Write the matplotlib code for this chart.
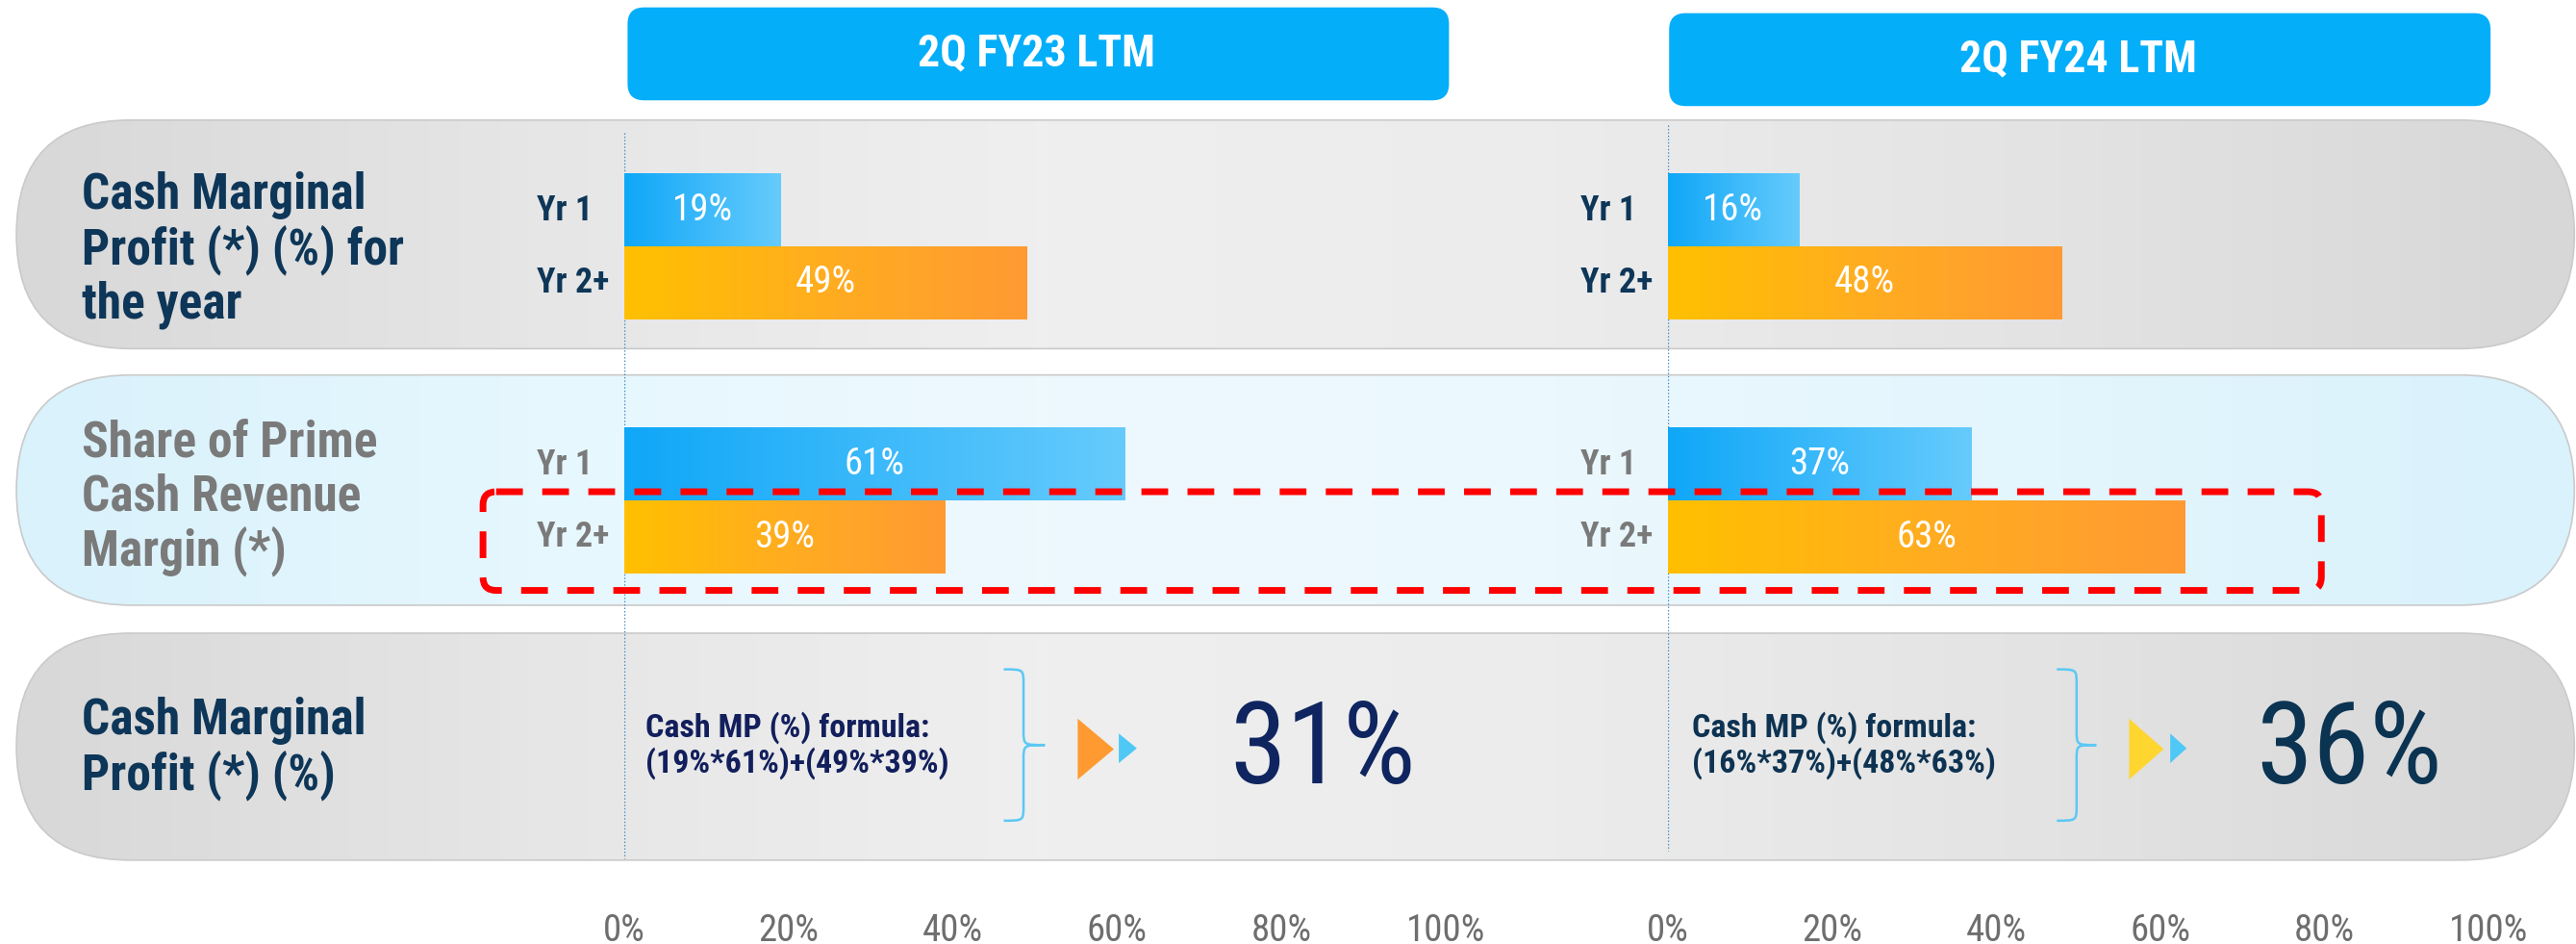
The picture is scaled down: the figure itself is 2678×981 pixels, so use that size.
import numpy as np
import matplotlib
matplotlib.use('Agg')
import matplotlib.pyplot as plt
from matplotlib.patches import FancyBboxPatch, Polygon, PathPatch
from matplotlib.path import Path
from matplotlib.colors import LinearSegmentedColormap

plt.rcParams['font.family'] = ['Roboto Condensed', 'Liberation Sans Narrow', 'Roboto', 'DejaVu Sans']

# data
periods = ['2Q FY23 LTM', '2Q FY24 LTM']
years = ['Yr 1', 'Yr 2+']
mp_year_fy23 = [19, 49]      # cash marginal profit for the year
mp_year_fy24 = [16, 48]
share_fy23 = [61, 39]        # share of prime cash revenue margin
share_fy24 = [37, 63]
cash_mp = [31, 36]
xticks = [0, 20, 40, 60, 80, 100]
row_titles = ['Cash Marginal\nProfit (*) (%) for\nthe year',
              'Share of Prime\nCash Revenue\nMargin (*)',
              'Cash Marginal\nProfit (*) (%)']

# layout, in units of the reference picture (1568 x 574)
W, H = 1568, 574
AX_BOTTOM = 548
panel_x0 = [380, 1015]
panel_w = 500
bands = [(73, 212), (228, 368), (385, 523)]
bar_rows = [(128, 172), (282.5, 326.5)]
NAVY = '#0D3658'
GREY_TXT = '#7A7A7A'


def hgrad(ax, colors, extent, z, clip=None):
    cmap = LinearSegmentedColormap.from_list('g', colors)
    im = ax.imshow(np.linspace(0, 1, 256)[None, :], cmap=cmap, extent=extent,
                   aspect='auto', zorder=z, interpolation='bilinear')
    if clip is not None:
        im.set_clip_path(clip)
    return im


def brace(xs, xb, xt, yt, yb):
    ym = (yt + yb) / 2
    h = 9
    verts = [(xs, yt), (xb, yt), (xb, yt), (xb, yt + h),
             (xb, ym - h),
             (xb, ym), (xb, ym), (xt, ym),
             (xb, ym), (xb, ym), (xb, ym + h),
             (xb, yb - h),
             (xb, yb), (xb, yb), (xs, yb)]
    codes = [Path.MOVETO] + [Path.CURVE4] * 3 + [Path.LINETO] + [Path.CURVE4] * 6 + \
            [Path.LINETO] + [Path.CURVE4] * 3
    return PathPatch(Path(verts, codes), fc='none', ec='#5BC8F5', lw=1.8, zorder=4)


fig = plt.figure(figsize=(26.78, 9.81), dpi=100)
bg = fig.add_axes([0, 0, 1, 1])
bg.axis('off')

gray_stops = ['#D8D8D8', '#E6E6E6', '#EFEFEF', '#ECECEC', '#E3E3E3', '#D7D7D7']
blue_stops = ['#D9F2FC', '#E6F7FE', '#EEF9FE', '#EBF8FE', '#E3F5FD', '#D9F2FC']
for (y0, y1), stops in zip(bands, [gray_stops, blue_stops, gray_stops]):
    p = FancyBboxPatch((10, y0), 1557, y1 - y0,
                       boxstyle=f'round,pad=0,rounding_size={(y1 - y0) / 2}',
                       fc='none', ec='#CACACA', lw=1.2, zorder=2)
    bg.add_patch(p)
    hgrad(bg, stops, (10, 1567, y1, y0), 1, clip=p)

# period headers
for name, (x0, y0, y1) in zip(periods, [(382, 4.5, 61), (1016, 8, 64.5)]):
    bg.add_patch(FancyBboxPatch((x0, y0), 500, y1 - y0,
                                boxstyle='round,pad=0,rounding_size=10',
                                fc='#05AEF9', ec='none', zorder=3))
    bg.text(x0 + 249, (y0 + y1) / 2, name, ha='center', va='center', color='white',
            fontsize=33, fontweight='bold', zorder=4)

# row titles
for title, yc, col in zip(row_titles, [152, 303, 455], [NAVY, GREY_TXT, NAVY]):
    bg.text(50, yc, title, ha='left', va='center', fontsize=37, fontweight='bold',
            color=col, linespacing=1.13, zorder=4)

# formula, brace, arrows and result
mp_pairs = [(mp_year_fy23, share_fy23), (mp_year_fy24, share_fy24)]
formula_x = [393, 1030]
formula_col = ['#121F5C', '#0E3352']
brace_x = [(611, 623, 636), (1252, 1264, 1276)]
tri_x = [(656, 678, 681, 692), (1296, 1317, 1321, 1331)]
tri_col = ['#FF9A30', '#FFD52F']
result_x = [805, 1430]
result_col = ['#0F2560', '#0B3352']
for i, (mp, sh) in enumerate(mp_pairs):
    txt = f'Cash MP (%) formula:\n({mp[0]}%*{sh[0]}%)+({mp[1]}%*{sh[1]}%)'
    bg.text(formula_x[i], 453, txt, ha='left', va='center', fontsize=24.5,
            fontweight='bold', color=formula_col[i], linespacing=1.12, zorder=4)
    bg.add_patch(brace(*brace_x[i], 407, 499))
    a, b, c, d = tri_x[i]
    bg.add_patch(Polygon([(a, 437), (a, 474), (b, 455.5)], closed=True,
                         fc=tri_col[i], ec='none', zorder=4))
    bg.add_patch(Polygon([(c, 446), (c, 464), (d, 455)], closed=True,
                         fc='#4FC8F5', ec='none', zorder=4))
    bg.text(result_x[i], 457, f'{cash_mp[i]}%', ha='center', va='center',
            fontsize=86, color=result_col[i], zorder=4)

bg.set_xlim(0, W)
bg.set_ylim(H, 0)

# bar panels
blue_bar = ['#0FA7F8', '#3BB9FA', '#66CBFC']
orange_bar = ['#FFC000', '#FFAD20', '#FF9A33']
panel_data = [[mp_year_fy23, share_fy23], [mp_year_fy24, share_fy24]]
axis_span = [(81, 522), (76, 517)]
for k, x0 in enumerate(panel_x0):
    ax = fig.add_axes([x0 / W, 1 - AX_BOTTOM / H, panel_w / W, AX_BOTTOM / H], zorder=2)
    ax.patch.set_visible(False)
    for s in ax.spines.values():
        s.set_visible(False)
    for r, vals in enumerate(panel_data[k]):
        bars = ax.barh(bar_rows[r], vals, height=44, color='none', zorder=3)
        for bar, v, stops, yl in zip(bars, vals, [blue_bar, orange_bar], years):
            bx, by = bar.get_x(), bar.get_y()
            bw, bh = bar.get_width(), bar.get_height()
            hgrad(ax, stops, (bx, bx + bw, by + bh, by), 3)
            yc = by + bh / 2
            ax.text(bx + bw / 2, yc, f'{v}%', ha='center', va='center',
                    color='white', fontsize=28, zorder=5)
            ax.text(-10.6, yc, yl, ha='left', va='center', fontsize=26,
                    fontweight='bold', color=NAVY if r == 0 else GREY_TXT)
    ax.vlines(0, *axis_span[k], colors='#3F86C0', linestyles=(0, (1, 1.5)), lw=1, zorder=2)
    ax.set_xlim(0, 100)
    ax.set_ylim(AX_BOTTOM, 0)
    ax.set_yticks([])
    ax.set_xticks(xticks, [f'{t}%' for t in xticks])
    ax.tick_params(axis='x', length=0, labelsize=28, labelcolor='#6E6E6E', pad=9)

# red dashed highlight around the Yr 2+ share row
fig.add_artist(FancyBboxPatch((294, 299), 1119, 60,
                              boxstyle='round,pad=0,rounding_size=8',
                              transform=bg.transData, fc='none', ec='#FF0000',
                              lw=5, ls=(0, (4, 2.9)), zorder=10))

fig.savefig('out.png', dpi=100)
